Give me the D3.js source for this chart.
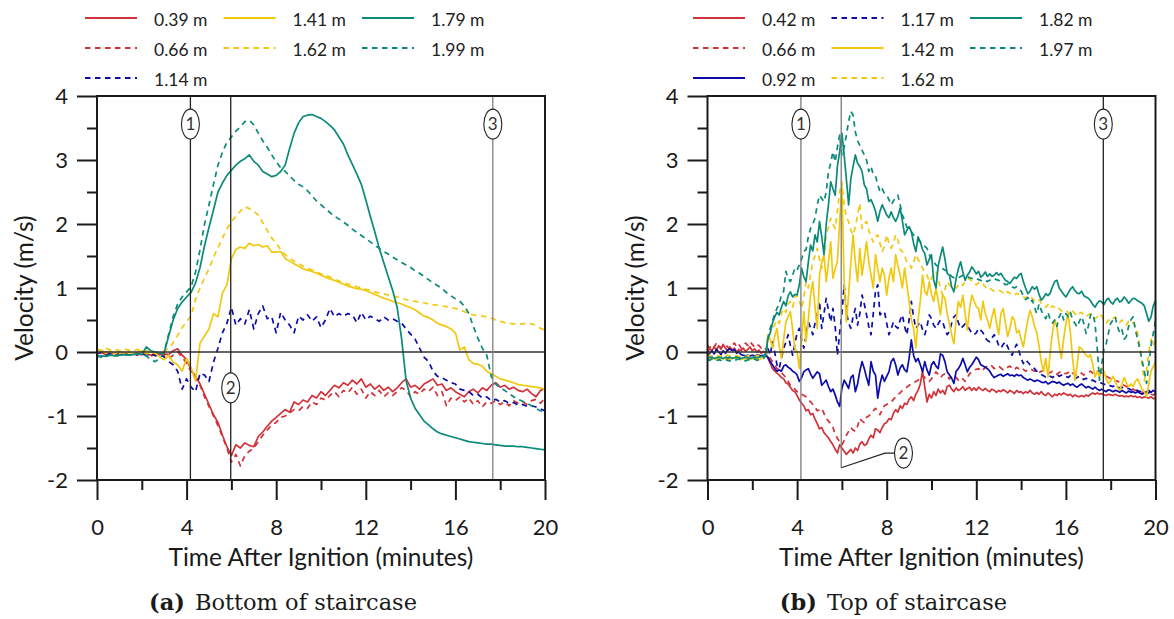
<!DOCTYPE html>
<html>
<head>
<meta charset="utf-8">
<script src="https://cdn.jsdelivr.net/npm/d3@7"></script>
<style>
  body { margin: 0; background: #fff; }
  svg { display: block; }
</style>
</head>
<body>
<svg id="chart" width="1174" height="619"></svg>
<script>
// ---------- data ----------
// Panel (a): bottom of staircase, sampled every 0.2 min
const stepA = 0.2;
const a039 = [-0.02,0.00,-0.05,-0.03,-0.02,-0.04,-0.03,-0.05,-0.03,-0.02,
 -0.04,-0.03,-0.05,-0.02,-0.04,-0.03,-0.04,0.02,0.05,-0.05,
 -0.12,-0.28,-0.38,-0.50,-0.66,-0.82,-0.98,-1.10,-1.30,-1.48,
 -1.62,-1.45,-1.50,-1.42,-1.46,-1.48,-1.32,-1.25,-1.16,-1.08,
 -1.02,-0.96,-0.90,-0.94,-0.78,-0.82,-0.75,-0.78,-0.68,-0.72,
 -0.62,-0.68,-0.60,-0.52,-0.56,-0.48,-0.52,-0.44,-0.50,-0.42,
 -0.55,-0.50,-0.58,-0.52,-0.60,-0.55,-0.62,-0.56,-0.48,-0.42,
 -0.55,-0.52,-0.58,-0.50,-0.46,-0.42,-0.52,-0.50,-0.60,-0.56,
 -0.62,-0.66,-0.70,-0.62,-0.58,-0.64,-0.56,-0.60,-0.52,-0.48,
 -0.55,-0.52,-0.58,-0.55,-0.60,-0.62,-0.58,-0.65,-0.70,-0.60,
 -0.57];
const a066 = [0.02,-0.03,0.00,-0.04,-0.02,-0.05,-0.01,-0.04,-0.02,-0.05,
 0.00,-0.03,-0.06,-0.04,-0.02,-0.06,-0.10,-0.05,0.00,-0.08,
 -0.18,-0.30,-0.42,-0.52,-0.70,-0.85,-1.00,-1.15,-1.32,-1.50,
 -1.72,-1.60,-1.78,-1.62,-1.55,-1.50,-1.40,-1.30,-1.22,-1.14,
 -1.10,-1.02,-1.00,-0.95,-0.90,-0.92,-0.85,-0.88,-0.78,-0.82,
 -0.72,-0.75,-0.68,-0.62,-0.70,-0.60,-0.64,-0.55,-0.66,-0.58,
 -0.72,-0.62,-0.68,-0.60,-0.70,-0.64,-0.68,-0.62,-0.56,-0.60,
 -0.70,-0.62,-0.66,-0.58,-0.62,-0.55,-0.68,-0.62,-0.84,-0.72,
 -0.76,-0.70,-0.78,-0.72,-0.82,-0.76,-0.86,-0.78,-0.80,-0.76,
 -0.82,-0.78,-0.84,-0.76,-0.80,-0.78,-0.82,-0.76,-0.74,-0.80,
 -0.72];
const a114 = [-0.03,0.00,-0.05,-0.02,-0.04,0.00,-0.03,-0.05,-0.02,-0.04,
 -0.03,-0.05,-0.02,-0.06,-0.04,-0.08,-0.15,-0.20,-0.30,-0.58,
 -0.42,-0.55,-0.62,-0.33,-0.36,-0.46,-0.16,0.06,0.30,0.45,
 0.70,0.42,0.52,0.44,0.66,0.36,0.60,0.72,0.52,0.55,
 0.30,0.62,0.50,0.42,0.30,0.56,0.50,0.58,0.48,0.55,
 0.38,0.50,0.68,0.55,0.60,0.56,0.60,0.58,0.46,0.62,
 0.50,0.56,0.52,0.48,0.55,0.50,0.52,0.48,0.45,0.36,
 0.28,0.20,0.06,-0.08,-0.15,-0.30,-0.38,-0.40,-0.44,-0.48,
 -0.50,-0.58,-0.60,-0.62,-0.68,-0.66,-0.72,-0.70,-0.76,-0.74,
 -0.78,-0.76,-0.80,-0.79,-0.83,-0.82,-0.85,-0.84,-0.86,-0.89,
 -0.92];
const a141 = [0.00,0.03,-0.02,0.02,-0.03,0.01,-0.02,0.00,-0.03,-0.02,
 0.02,-0.03,0.00,-0.02,-0.08,-0.12,-0.05,-0.16,-0.20,-0.30,
 -0.10,-0.25,-0.45,0.14,0.25,0.36,0.60,0.55,0.92,1.05,
 1.46,1.60,1.64,1.62,1.70,1.66,1.68,1.64,1.66,1.56,
 1.56,1.57,1.46,1.42,1.38,1.34,1.30,1.28,1.26,1.23,
 1.20,1.17,1.14,1.12,1.09,1.06,1.03,1.01,0.99,0.98,
 0.96,0.93,0.90,0.87,0.84,0.82,0.79,0.77,0.75,0.72,
 0.69,0.66,0.61,0.56,0.54,0.50,0.45,0.42,0.40,0.36,
 0.30,0.03,0.08,-0.12,-0.18,-0.19,-0.22,-0.30,-0.34,-0.38,
 -0.42,-0.44,-0.46,-0.48,-0.51,-0.52,-0.53,-0.54,-0.55,-0.56,
 -0.59];
const a162 = [0.05,0.02,0.06,0.03,0.04,0.02,0.05,0.03,0.02,0.04,
 0.00,0.02,0.00,-0.02,0.00,0.02,0.05,0.15,0.26,0.38,
 0.48,0.56,0.82,1.00,1.16,1.30,1.48,1.63,1.78,1.92,
 2.04,2.12,2.20,2.27,2.24,2.20,2.14,2.02,1.90,1.78,
 1.70,1.60,1.52,1.46,1.42,1.38,1.34,1.31,1.28,1.25,
 1.22,1.20,1.17,1.14,1.11,1.08,1.06,1.04,1.02,1.00,
 0.98,0.96,0.94,0.92,0.91,0.89,0.87,0.86,0.84,0.82,
 0.80,0.79,0.78,0.77,0.75,0.74,0.73,0.72,0.71,0.70,
 0.68,0.66,0.63,0.60,0.58,0.57,0.56,0.55,0.53,0.50,
 0.48,0.46,0.45,0.44,0.44,0.44,0.45,0.44,0.41,0.37,
 0.34];
const a179 = [-0.08,-0.06,-0.07,-0.05,-0.06,-0.05,-0.04,-0.05,-0.04,-0.03,
 -0.04,0.08,0.02,0.00,-0.02,-0.01,0.25,0.50,0.68,0.78,
 0.86,0.93,1.08,1.32,1.66,1.95,2.22,2.50,2.64,2.76,
 2.84,2.92,2.98,3.02,3.08,2.98,2.92,2.82,2.78,2.74,
 2.76,2.82,2.92,3.18,3.42,3.58,3.68,3.70,3.71,3.68,
 3.65,3.60,3.54,3.47,3.36,3.25,3.08,2.93,2.78,2.62,
 2.38,2.12,1.88,1.62,1.40,1.18,0.96,0.70,0.20,-0.45,
 -0.72,-0.88,-0.98,-1.08,-1.14,-1.20,-1.25,-1.28,-1.30,-1.32,
 -1.34,-1.36,-1.38,-1.40,-1.41,-1.42,-1.43,-1.44,-1.44,-1.45,
 -1.46,-1.47,-1.47,-1.47,-1.48,-1.48,-1.49,-1.50,-1.51,-1.52,
 -1.53];
const a199 = [-0.05,-0.08,-0.06,-0.04,-0.07,-0.05,-0.03,-0.05,-0.04,-0.02,
 -0.05,-0.06,-0.12,-0.15,-0.10,0.00,0.28,0.55,0.75,0.86,
 0.94,1.02,1.25,1.60,2.00,2.30,2.62,2.92,3.12,3.28,
 3.36,3.45,3.52,3.60,3.62,3.55,3.42,3.30,3.20,3.08,
 2.97,2.88,2.82,2.75,2.68,2.62,2.58,2.52,2.44,2.36,
 2.30,2.24,2.18,2.12,2.08,2.03,1.98,1.92,1.87,1.82,
 1.77,1.72,1.67,1.62,1.57,1.53,1.48,1.44,1.40,1.36,
 1.32,1.27,1.23,1.18,1.13,1.08,1.04,0.99,0.93,0.88,
 0.83,0.79,0.72,0.60,0.40,0.22,0.06,-0.05,-0.38,-0.50,
 -0.56,-0.60,-0.65,-0.70,-0.74,-0.77,-0.80,-0.84,-0.88,-0.92,
 -0.96];

// Panel (b): top of staircase, sampled every 0.1 min
const stepB = 0.1;
const b042 = [0.00,0.05,0.02,0.08,0.03,0.10,0.04,0.12,0.06,0.02,
 0.08,0.03,0.06,0.00,0.04,0.02,0.06,0.01,0.04,0.08,
 0.02,0.05,0.00,0.03,-0.02,0.01,-0.02,-0.10,-0.18,-0.26,
 -0.30,-0.33,-0.36,-0.40,-0.42,-0.48,-0.50,-0.55,-0.60,-0.62,
 -0.68,-0.75,-0.80,-0.84,-0.92,-0.90,-0.98,-0.96,-1.05,-1.12,
 -1.20,-1.18,-1.26,-1.30,-1.34,-1.40,-1.45,-1.52,-1.58,-1.45,
 -1.50,-1.55,-1.60,-1.56,-1.52,-1.58,-1.50,-1.54,-1.44,-1.40,
 -1.46,-1.44,-1.36,-1.30,-1.34,-1.20,-1.22,-1.26,-1.18,-1.12,
 -1.10,-1.04,-1.06,-0.96,-0.90,-0.94,-0.84,-0.88,-0.80,-0.82,
 -0.74,-0.70,-0.76,-0.66,-0.60,-0.50,-0.30,-0.55,-0.78,-0.66,
 -0.72,-0.62,-0.68,-0.58,-0.64,-0.60,-0.66,-0.54,-0.52,-0.58,
 -0.62,-0.56,-0.60,-0.58,-0.54,-0.60,-0.57,-0.55,-0.60,-0.56,
 -0.60,-0.55,-0.58,-0.60,-0.57,-0.60,-0.62,-0.58,-0.60,-0.63,
 -0.60,-0.62,-0.59,-0.61,-0.64,-0.60,-0.62,-0.65,-0.60,-0.63,
 -0.62,-0.65,-0.62,-0.64,-0.60,-0.64,-0.66,-0.63,-0.66,-0.62,
 -0.66,-0.68,-0.64,-0.67,-0.70,-0.66,-0.68,-0.65,-0.67,-0.64,
 -0.66,-0.68,-0.66,-0.70,-0.67,-0.69,-0.70,-0.68,-0.70,-0.67,
 -0.69,-0.66,-0.64,-0.66,-0.64,-0.66,-0.65,-0.67,-0.68,-0.66,
 -0.67,-0.68,-0.66,-0.68,-0.69,-0.68,-0.70,-0.69,-0.70,-0.68,
 -0.70,-0.69,-0.71,-0.70,-0.72,-0.70,-0.71,-0.72,-0.70,-0.73,
 -0.72];
const b066 = [0.10,0.06,0.12,0.08,0.14,0.10,0.06,0.10,0.12,0.08,
 0.05,0.10,0.14,0.08,0.12,0.06,0.10,0.14,0.10,0.16,
 0.12,0.08,0.12,0.10,0.06,0.08,0.04,-0.02,-0.10,-0.15,
 -0.20,-0.26,-0.28,-0.32,-0.36,-0.40,-0.46,-0.52,-0.54,-0.58,
 -0.62,-0.64,-0.66,-0.68,-0.70,-0.75,-0.78,-0.82,-0.86,-0.92,
 -0.90,-0.88,-0.96,-1.04,-1.08,-1.12,-1.18,-1.28,-1.35,-1.40,
 -1.45,-1.38,-1.30,-1.24,-1.18,-1.22,-1.24,-1.16,-1.04,-1.08,
 -1.10,-1.02,-1.00,-0.96,-0.92,-0.88,-0.92,-0.98,-0.90,-0.84,
 -0.82,-0.80,-0.78,-0.74,-0.70,-0.66,-0.64,-0.60,-0.58,-0.55,
 -0.52,-0.50,-0.48,-0.46,-0.44,-0.40,-0.36,-0.40,-0.44,-0.46,
 -0.42,-0.36,-0.31,-0.35,-0.40,-0.36,-0.34,-0.38,-0.42,-0.38,
 -0.36,-0.40,-0.44,-0.40,-0.42,-0.46,-0.40,-0.34,-0.31,-0.28,
 -0.27,-0.26,-0.30,-0.28,-0.24,-0.22,-0.20,-0.22,-0.26,-0.24,
 -0.22,-0.25,-0.28,-0.26,-0.24,-0.22,-0.25,-0.28,-0.24,-0.26,
 -0.24,-0.27,-0.30,-0.28,-0.26,-0.28,-0.30,-0.28,-0.32,-0.30,
 -0.29,-0.31,-0.34,-0.32,-0.30,-0.33,-0.35,-0.32,-0.30,-0.33,
 -0.34,-0.32,-0.36,-0.33,-0.35,-0.37,-0.34,-0.33,-0.36,-0.34,
 -0.32,-0.30,-0.33,-0.31,-0.30,-0.30,-0.33,-0.36,-0.38,-0.40,
 -0.42,-0.44,-0.46,-0.45,-0.48,-0.50,-0.52,-0.54,-0.55,-0.57,
 -0.58,-0.60,-0.61,-0.62,-0.63,-0.64,-0.65,-0.64,-0.66,-0.67,
 -0.66];
const b092 = [-0.05,-0.02,0.02,-0.03,0.04,0.00,-0.04,0.02,-0.02,0.03,
 0.05,0.02,0.04,-0.02,0.00,-0.04,-0.05,-0.06,-0.05,-0.06,
 -0.05,-0.06,-0.05,-0.05,-0.06,-0.05,-0.06,-0.08,-0.15,-0.20,
 -0.26,-0.30,-0.28,-0.30,-0.22,-0.20,-0.24,-0.26,-0.30,-0.32,
 -0.36,-0.46,-0.40,-0.31,-0.28,-0.26,-0.34,-0.41,-0.36,-0.31,
 -0.34,-0.52,-0.48,-0.44,-0.54,-0.62,-0.58,-0.67,-0.78,-0.85,
 -0.57,-0.44,-0.50,-0.57,-0.40,-0.36,-0.62,-0.50,-0.30,-0.15,
 -0.26,-0.40,-0.52,-0.15,-0.30,-0.36,-0.72,-0.50,-0.36,-0.46,
 -0.38,-0.31,-0.15,-0.10,-0.20,-0.36,-0.25,-0.20,-0.28,-0.31,
 -0.10,0.19,-0.05,-0.15,-0.10,-0.20,-0.31,-0.15,-0.28,-0.36,
 -0.20,-0.15,-0.22,-0.26,-0.03,-0.05,-0.15,-0.31,-0.36,-0.41,
 -0.49,-0.30,-0.26,-0.20,-0.10,-0.20,-0.31,-0.24,-0.20,-0.14,
 -0.08,-0.12,-0.20,-0.22,-0.24,-0.26,-0.30,-0.36,-0.40,-0.38,
 -0.36,-0.35,-0.38,-0.36,-0.34,-0.37,-0.36,-0.38,-0.35,-0.37,
 -0.36,-0.40,-0.42,-0.44,-0.42,-0.44,-0.46,-0.44,-0.45,-0.47,
 -0.48,-0.46,-0.50,-0.48,-0.46,-0.47,-0.49,-0.47,-0.50,-0.52,
 -0.50,-0.49,-0.52,-0.50,-0.53,-0.55,-0.52,-0.50,-0.53,-0.56,
 -0.54,-0.56,-0.58,-0.55,-0.58,-0.60,-0.58,-0.60,-0.62,-0.59,
 -0.60,-0.62,-0.60,-0.61,-0.63,-0.60,-0.62,-0.64,-0.61,-0.63,
 -0.62,-0.64,-0.62,-0.64,-0.66,-0.64,-0.62,-0.60,-0.63,-0.60,
 -0.62];
const b117 = [-0.08,-0.09,-0.07,-0.08,-0.10,-0.08,-0.07,-0.09,-0.08,-0.10,
 -0.09,-0.08,-0.07,-0.09,-0.08,-0.10,-0.09,-0.08,-0.10,-0.09,
 -0.08,-0.09,-0.10,-0.08,-0.09,-0.07,-0.06,0.05,-0.05,0.16,
 0.00,-0.20,-0.26,-0.10,0.06,0.15,0.27,0.10,-0.05,0.12,
 0.30,0.37,0.20,0.06,0.25,0.47,0.38,0.27,0.45,0.60,
 0.79,0.37,0.60,0.84,0.65,0.47,0.68,0.40,-0.05,0.30,
 0.60,1.05,0.63,0.45,0.37,0.55,0.68,0.42,0.60,0.89,
 0.75,0.58,0.40,0.27,0.60,0.95,1.05,0.58,0.62,0.63,
 0.45,0.27,0.36,0.47,0.40,0.37,0.50,0.58,0.40,0.27,
 0.50,0.79,0.55,0.37,0.42,0.47,0.35,0.27,0.40,0.58,
 0.52,0.42,0.37,0.44,0.50,0.47,0.36,0.27,0.32,0.45,
 0.55,0.58,0.46,0.37,0.40,0.44,0.42,0.35,0.30,0.27,
 0.30,0.37,0.34,0.30,0.22,0.18,0.16,0.22,0.27,0.20,
 0.10,0.06,0.12,0.16,0.08,0.00,-0.05,0.05,0.12,0.02,
 -0.10,-0.18,-0.12,-0.16,-0.20,-0.22,-0.26,-0.30,-0.32,-0.35,
 -0.37,-0.39,-0.36,-0.38,-0.40,-0.37,-0.35,-0.38,-0.36,-0.39,
 -0.38,-0.40,-0.37,-0.39,-0.42,-0.40,-0.38,-0.41,-0.43,-0.41,
 -0.43,-0.45,-0.44,-0.46,-0.48,-0.47,-0.49,-0.50,-0.52,-0.51,
 -0.53,-0.54,-0.52,-0.55,-0.56,-0.55,-0.57,-0.58,-0.57,-0.59,
 -0.60,-0.58,-0.60,-0.62,-0.60,-0.62,-0.63,-0.64,-0.62,-0.64,
 -0.65];
const b142 = [-0.10,-0.09,-0.11,-0.10,-0.12,-0.10,-0.09,-0.11,-0.10,-0.12,
 -0.11,-0.10,-0.09,-0.11,-0.10,-0.12,-0.11,-0.10,-0.11,-0.12,
 -0.10,-0.11,-0.10,-0.12,-0.10,-0.08,-0.05,0.27,0.20,0.06,
 0.25,0.37,0.10,-0.10,0.20,0.47,0.55,0.63,0.35,0.06,
 0.00,-0.26,0.20,0.63,0.16,0.50,0.89,1.10,0.70,0.37,
 1.20,1.41,1.52,1.10,1.40,1.72,1.15,1.30,1.41,2.04,
 2.61,1.10,0.47,0.90,1.41,1.83,1.40,1.10,1.62,1.20,
 1.45,1.72,1.41,1.20,1.00,1.52,1.30,1.10,1.31,1.20,
 0.89,1.15,1.31,1.10,1.52,1.35,1.20,1.00,1.31,1.05,
 0.79,0.50,0.37,0.06,0.50,0.79,1.20,0.95,0.89,1.10,
 0.90,0.79,1.00,0.80,0.58,0.89,0.84,0.60,0.45,0.27,
 0.13,0.50,0.79,0.70,0.89,0.60,0.34,0.68,0.89,0.80,
 0.71,0.68,0.50,0.79,0.60,0.50,0.37,0.55,0.68,0.45,
 0.27,0.60,0.68,0.45,0.24,0.37,0.55,0.50,0.30,0.34,
 0.20,0.08,0.30,0.50,0.65,0.55,0.40,0.30,0.10,-0.15,
 -0.30,-0.10,-0.39,0.00,0.30,0.50,0.40,0.10,-0.10,0.20,
 0.45,0.60,0.30,-0.10,-0.44,-0.20,0.08,0.05,0.00,-0.05,
 -0.08,-0.04,-0.20,-0.39,-0.30,-0.39,-0.25,-0.30,-0.42,-0.49,
 -0.45,-0.38,-0.45,-0.55,-0.60,-0.50,-0.40,-0.48,-0.54,-0.50,
 -0.54,-0.46,-0.42,-0.50,-0.58,-0.62,-0.70,-0.50,-0.30,-0.23,
 -0.15];
const b162 = [-0.06,-0.05,-0.07,-0.06,-0.05,-0.07,-0.06,-0.08,-0.06,-0.05,
 -0.07,-0.06,-0.05,-0.06,-0.07,-0.06,-0.05,-0.07,-0.06,-0.05,
 -0.06,-0.07,-0.06,-0.05,-0.06,-0.05,-0.02,0.21,0.30,0.38,
 0.42,0.50,0.45,0.60,0.68,0.62,0.75,0.79,0.70,0.85,
 0.89,0.80,0.68,0.85,1.10,1.00,1.20,1.41,1.50,1.62,
 1.45,1.31,1.50,1.83,1.95,2.09,2.00,1.93,2.20,2.50,
 2.66,2.30,2.10,2.04,1.90,1.83,1.95,2.14,2.32,1.93,
 2.00,2.04,1.90,1.80,1.72,1.80,1.83,1.70,1.57,1.65,
 1.83,1.70,1.62,1.70,1.83,1.75,1.60,1.57,1.50,1.41,
 1.38,1.31,1.40,1.52,1.45,1.38,1.31,1.25,1.20,1.10,
 1.15,1.22,1.26,1.15,1.00,0.89,0.98,1.10,1.05,1.00,
 1.02,1.00,1.05,1.08,1.04,1.10,1.12,1.15,1.10,1.08,
 1.05,1.08,1.10,1.06,1.02,0.98,1.00,0.97,0.95,0.96,
 0.97,0.95,0.92,0.90,0.94,0.92,0.90,0.88,0.92,0.90,
 0.88,0.86,0.84,0.88,0.86,0.84,0.80,0.78,0.82,0.76,
 0.72,0.70,0.74,0.68,0.72,0.70,0.66,0.68,0.64,0.66,
 0.65,0.62,0.58,0.64,0.60,0.56,0.60,0.62,0.58,0.55,
 0.58,0.60,0.56,0.52,0.55,0.60,0.56,0.50,0.45,0.50,
 0.48,0.52,0.55,0.50,0.46,0.50,0.45,0.42,0.48,0.50,
 0.46,0.40,0.30,0.10,-0.20,-0.45,-0.30,0.00,0.20,0.10,
 0.20];
const b182 = [-0.08,-0.09,-0.08,-0.10,-0.09,-0.08,-0.09,-0.10,-0.08,-0.09,
 -0.08,-0.10,-0.09,-0.08,-0.09,-0.10,-0.09,-0.08,-0.09,-0.10,
 -0.09,-0.08,-0.09,-0.08,-0.07,-0.06,-0.02,0.22,0.30,0.45,
 0.55,0.62,0.58,0.70,0.79,0.72,0.88,0.94,0.86,0.90,
 0.89,1.05,1.31,1.18,1.10,1.40,1.67,1.58,1.83,1.72,
 2.04,1.80,1.52,2.00,2.30,2.66,2.55,2.45,2.90,3.13,
 3.42,3.08,2.70,2.30,2.71,2.90,3.08,2.95,2.90,2.82,
 2.61,2.55,2.35,2.38,2.30,2.20,2.04,2.20,2.30,2.22,
 2.14,2.10,2.19,2.10,2.04,2.12,2.25,2.05,1.83,1.90,
 1.96,1.88,1.70,1.57,1.80,1.72,1.60,1.54,1.36,1.45,
 1.52,1.12,1.00,1.35,1.50,1.64,1.45,1.23,1.20,1.02,
 0.94,1.15,1.30,1.41,1.25,1.12,1.20,1.25,1.33,1.28,
 1.22,1.26,1.17,1.20,1.25,1.18,1.22,1.18,1.20,1.24,
 1.20,1.23,1.17,1.12,1.10,1.07,1.12,1.17,1.15,1.20,
 1.23,1.10,1.00,0.91,0.95,1.02,0.98,1.02,0.90,0.81,
 0.85,0.91,0.88,0.92,1.02,1.10,1.12,1.00,0.95,0.90,
 0.86,0.92,0.98,1.02,0.96,0.92,0.91,0.95,0.88,0.86,
 0.84,0.80,0.74,0.70,0.76,0.80,0.78,0.74,0.81,0.84,
 0.78,0.75,0.81,0.84,0.78,0.80,0.86,0.82,0.76,0.80,
 0.84,0.83,0.80,0.78,0.76,0.72,0.60,0.48,0.55,0.72,
 0.80];
const b197 = [-0.12,-0.13,-0.11,-0.12,-0.14,-0.12,-0.13,-0.11,-0.12,-0.13,
 -0.14,-0.12,-0.13,-0.12,-0.11,-0.13,-0.12,-0.14,-0.12,-0.13,
 -0.12,-0.11,-0.13,-0.12,-0.11,-0.10,-0.06,0.20,0.37,0.48,
 0.60,0.68,0.75,0.89,0.95,1.26,1.15,1.10,1.20,1.31,
 1.28,1.36,1.45,1.57,1.60,1.80,1.93,2.00,2.09,2.30,
 2.45,2.40,2.35,2.50,2.82,2.95,3.13,2.97,3.20,3.39,
 3.08,3.20,3.39,3.60,3.76,3.70,3.44,3.30,3.23,3.15,
 3.08,3.00,2.82,2.90,2.77,2.75,2.62,2.50,2.55,2.48,
 2.45,2.38,2.30,2.36,2.42,2.45,2.30,2.14,2.05,1.95,
 1.93,1.88,1.83,1.80,1.75,1.72,1.68,1.65,1.62,1.52,
 1.45,1.41,1.36,1.33,1.31,1.30,1.28,1.26,1.22,1.18,
 1.16,1.15,1.16,1.18,1.20,1.20,1.18,1.16,1.15,1.14,
 1.15,1.13,1.12,1.10,1.12,1.10,1.12,1.14,1.15,1.13,
 1.12,1.10,1.08,1.05,1.06,1.05,1.02,1.00,1.02,0.98,
 0.95,0.88,0.82,0.85,0.78,0.81,0.70,0.60,0.75,0.65,
 0.58,0.52,0.62,0.50,0.45,0.50,0.40,0.55,0.62,0.50,
 0.60,0.55,0.62,0.50,0.45,0.39,0.48,0.55,0.45,0.29,
 0.40,0.58,0.60,0.45,0.05,-0.44,-0.20,0.05,0.13,0.30,
 0.45,0.50,0.55,0.40,0.30,0.35,0.20,0.24,0.40,0.50,
 0.55,0.35,0.20,0.05,-0.13,-0.30,-0.49,-0.20,0.10,0.29,
 0.50];

// axis ticks
const xMajorTicks = [0, 4, 8, 12, 16, 20];
const xMinorTicks = [2, 6, 10, 14, 18];
const yMajorTicks = [-2, -1, 0, 1, 2, 3, 4];
const yMinorTicks = [-1.5, -0.5, 0.5, 1.5, 2.5, 3.5];

// reference events (minutes after ignition)
const eventTimes = [4.17, 5.97, 17.67];
const eventLabels = ["1", "2", "3"];

// ---------- styles ----------
const RED = "#d1323a", YELLOW = "#f2c80f", TEAL = "#0a8a7a", BLUE = "#0c0cab";
const FONT = "Lato, 'Open Sans', sans-serif";
const INK = "#1a1a1a";

const panels = [
  {
    left: 97, legendX: 85, caption: ["(a)", "Bottom of staircase"], step: stepA,
    series: [
      { label: "0.39 m", values: a039, color: RED, dashed: false },
      { label: "0.66 m", values: a066, color: RED, dashed: true },
      { label: "1.14 m", values: a114, color: BLUE, dashed: true },
      { label: "1.41 m", values: a141, color: YELLOW, dashed: false },
      { label: "1.62 m", values: a162, color: YELLOW, dashed: true },
      { label: "1.79 m", values: a179, color: TEAL, dashed: false },
      { label: "1.99 m", values: a199, color: TEAL, dashed: true }
    ],
    legendCols: [[0, 1, 2], [3, 4], [5, 6]],
    eventColors: ["#222", "#222", "#808080"],
    eventBottom: [-2, -2, -2],
    bubbles: [{ t: 4.17, v: 3.56 }, { t: 5.97, v: -0.56 }, { t: 17.67, v: 3.56 }],
    leader: null
  },
  {
    left: 707.5, legendX: 693, caption: ["(b)", "Top of staircase"], step: stepB,
    series: [
      { label: "0.42 m", values: b042, color: RED, dashed: false },
      { label: "0.66 m", values: b066, color: RED, dashed: true },
      { label: "0.92 m", values: b092, color: BLUE, dashed: false },
      { label: "1.17 m", values: b117, color: BLUE, dashed: true },
      { label: "1.42 m", values: b142, color: YELLOW, dashed: false },
      { label: "1.62 m", values: b162, color: YELLOW, dashed: true },
      { label: "1.82 m", values: b182, color: TEAL, dashed: false },
      { label: "1.97 m", values: b197, color: TEAL, dashed: true }
    ],
    legendCols: [[0, 1, 2], [3, 4, 5], [6, 7]],
    eventColors: ["#7a7a7a", "#7a7a7a", "#222"],
    eventBottom: [-2, -1.81, -2],
    bubbles: [{ t: 4.17, v: 3.56 }, { t: 8.75, v: -1.58 }, { t: 17.67, v: 3.56 }],
    leader: [{ t: 5.97, v: -1.81 }, { t: 7.92, v: -1.58 }, { t: 8.35, v: -1.58 }]
  }
];

const svg = d3.select("#chart");
const PLOT_W = 448, TOP = 96, BOTTOM = 480;

panels.forEach(p => {
  const x = d3.scaleLinear().domain([0, 20]).range([p.left, p.left + PLOT_W]);
  const y = d3.scaleLinear().domain([-2, 4]).range([BOTTOM, TOP]);
  const g = svg.append("g");

  const clipId = "clip" + Math.round(p.left);
  svg.append("clipPath").attr("id", clipId)
    .append("rect").attr("x", p.left).attr("y", TOP).attr("width", PLOT_W).attr("height", BOTTOM - TOP);

  // series
  const line = d3.line()
    .x((d, i) => x(i * p.step))
    .y(d => y(d));
  g.append("g").attr("clip-path", `url(#${clipId})`)
    .selectAll("path").data(p.series).join("path")
    .attr("d", s => line(s.values))
    .attr("fill", "none")
    .attr("stroke", s => s.color)
    .attr("stroke-width", 1.7)
    .attr("stroke-linejoin", "round")
    .attr("stroke-dasharray", s => s.dashed ? "5.5,4.5" : null);

  // zero line
  g.append("line")
    .attr("x1", x(0)).attr("x2", x(20)).attr("y1", y(0)).attr("y2", y(0))
    .attr("stroke", "#333").attr("stroke-width", 1.6);

  // event lines
  eventTimes.forEach((t, i) => {
    g.append("line")
      .attr("x1", x(t)).attr("x2", x(t))
      .attr("y1", y(4)).attr("y2", y(p.eventBottom[i]))
      .attr("stroke", p.eventColors[i]).attr("stroke-width", 1.3);
  });
  if (p.leader) {
    g.append("path")
      .attr("d", d3.line().x(d => x(d.t)).y(d => y(d.v))(p.leader))
      .attr("fill", "none").attr("stroke", "#222").attr("stroke-width", 1.1);
  }
  p.bubbles.forEach((b, i) => {
    const bg = g.append("g").attr("transform", `translate(${x(b.t)},${y(b.v)})`);
    bg.append("ellipse").attr("rx", 9).attr("ry", 15)
      .attr("fill", "#fff").attr("stroke", "#222").attr("stroke-width", 1.1);
    bg.append("text").text(eventLabels[i])
      .attr("text-anchor", "middle").attr("dy", "0.36em")
      .attr("font-family", FONT).attr("font-size", 17).attr("fill", "#333");
  });

  // axes
  const styleAxis = sel => {
    sel.select(".domain").remove();
    sel.selectAll(".tick line").attr("stroke", INK).attr("stroke-width", 2);
    sel.selectAll(".tick text").attr("font-family", FONT).attr("font-size", 22).attr("fill", INK);
  };
  g.append("g").attr("transform", `translate(${p.left},0)`)
    .call(d3.axisLeft(y).tickValues(yMajorTicks).tickSize(20).tickPadding(9).tickFormat(d => String(d)))
    .call(styleAxis);
  g.append("g").attr("transform", `translate(${p.left},0)`)
    .call(d3.axisLeft(y).tickValues(yMinorTicks).tickSize(10).tickFormat(""))
    .call(styleAxis);
  g.append("g").attr("transform", `translate(0,${BOTTOM})`)
    .call(d3.axisBottom(x).tickValues(xMajorTicks).tickSize(20).tickPadding(19).tickFormat(d => String(d)))
    .call(styleAxis);
  g.append("g").attr("transform", `translate(0,${BOTTOM})`)
    .call(d3.axisBottom(x).tickValues(xMinorTicks).tickSize(10).tickFormat(""))
    .call(styleAxis);

  // frame
  g.append("rect")
    .attr("x", p.left).attr("y", TOP).attr("width", PLOT_W).attr("height", BOTTOM - TOP)
    .attr("fill", "none").attr("stroke", INK).attr("stroke-width", 2);

  // axis titles
  g.append("text")
    .attr("x", p.left + PLOT_W / 2).attr("y", 566)
    .attr("text-anchor", "middle")
    .attr("font-family", FONT).attr("font-size", 24.5).attr("fill", INK)
    .text("Time After Ignition (minutes)");
  g.append("text")
    .attr("transform", `translate(${p.left - 64},${(TOP + BOTTOM) / 2}) rotate(-90)`)
    .attr("text-anchor", "middle")
    .attr("font-family", FONT).attr("font-size", 24.5).attr("fill", INK)
    .text("Velocity (m/s)");

  // caption
  const cap = g.append("text")
    .attr("x", p.left + PLOT_W / 2 - 38).attr("y", 610)
    .attr("text-anchor", "middle")
    .attr("font-family", "'DejaVu Serif', 'Liberation Serif', serif")
    .attr("font-size", 22.5).attr("fill", INK);
  cap.append("tspan").attr("font-weight", "bold").text(p.caption[0]);
  cap.append("tspan").attr("dx", 10).text(p.caption[1]);

  // legend
  const lg = svg.append("g");
  p.legendCols.forEach((col, ci) => {
    col.forEach((si, ri) => {
      const s = p.series[si];
      const lx = p.legendX + ci * 138.5;
      const ly = 18 + ri * 30;
      lg.append("line")
        .attr("x1", lx).attr("x2", lx + 52).attr("y1", ly).attr("y2", ly)
        .attr("stroke", s.color).attr("stroke-width", 2)
        .attr("stroke-dasharray", s.dashed ? "5.5,4.5" : null);
      lg.append("text")
        .attr("x", lx + 69).attr("y", ly + 1.5).attr("dy", "0.35em")
        .attr("font-family", FONT).attr("font-size", 17.5).attr("fill", "#222")
        .text(s.label);
    });
  });
});
</script>
</body>
</html>
